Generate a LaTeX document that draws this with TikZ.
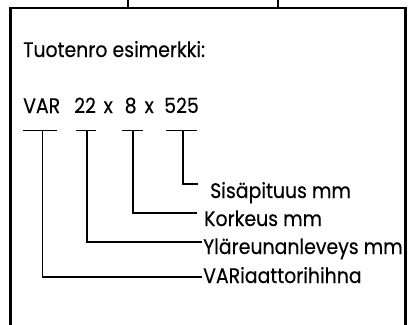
\documentclass[tikz,border=0pt]{standalone}
\usepackage{fontspec}
\setmainfont[FakeStretch=0.9,FakeBold=0.3]{Poppins}
\begin{document}
\begin{tikzpicture}[x=1bp,y=-1bp,
  frame/.style={line width=2.4bp,line cap=rect},
  thin/.style={line width=1.2bp},
  lbl/.style={anchor=base west,inner sep=0pt,font=\fontsize{21bp}{24bp}\selectfont}]
\useasboundingbox (0,0) rectangle (409,325);
\clip (0,0) rectangle (409,325);
\fill[white] (0,0) rectangle (409,325);
% frame
\draw[frame] (10.5,340) -- (10.5,8) -- (405.5,8) -- (405.5,340);
\draw[thin] (128,-2) -- (128,8);
\draw[thin] (278,-2) -- (278,8);
% texts
\node[lbl] (title) at (23,57) {Tuotenro esimerkki:};
\node[lbl] (cvar) at (23,113) {VAR};
\node[lbl] (c22) at (74,113) {22};
\node[lbl] (cx1) at (103.5,113) {x};
\node[lbl] (c8) at (124.5,113) {8};
\node[lbl] (cx2) at (144.5,113) {x};
\node[lbl] (c525) at (164,113) {525};
\node[lbl] (l4) at (210,198) {Sisäpituus mm};
\node[lbl] (l3) at (204,226) {Korkeus mm};
\node[lbl] (l2) at (203,254) {Yläreunanleveys mm};
\node[lbl] (l1) at (203,283) {VARiaattorihihna};
% bracket coordinates
\coordinate (b1l) at (23,130.7);  \coordinate (b1r) at (57,130.7);  \coordinate (v1) at (42.5,130.7);
\coordinate (b2l) at (76,130.7);  \coordinate (b2r) at (96,130.7);  \coordinate (v2) at (87,130.7);
\coordinate (b3l) at (122,130.7); \coordinate (b3r) at (143,130.7); \coordinate (v3) at (133,130.7);
\coordinate (b4l) at (166,130.7); \coordinate (b4r) at (197,130.7); \coordinate (v4) at (183,130.7);
\coordinate (e4) at (198,184);
\coordinate (e3) at (197,213);
\coordinate (e2) at (202,242);
\coordinate (e1) at (202,277);
% brackets
\draw[thin] (b1l) -- (b1r); \draw[thin] (v1) |- (e1);
\draw[thin] (b2l) -- (b2r); \draw[thin] (v2) |- (e2);
\draw[thin] (b3l) -- (b3r); \draw[thin] (v3) |- (e3);
\draw[thin] (b4l) -- (b4r); \draw[thin] (v4) |- (e4);
\end{tikzpicture}
\end{document}
